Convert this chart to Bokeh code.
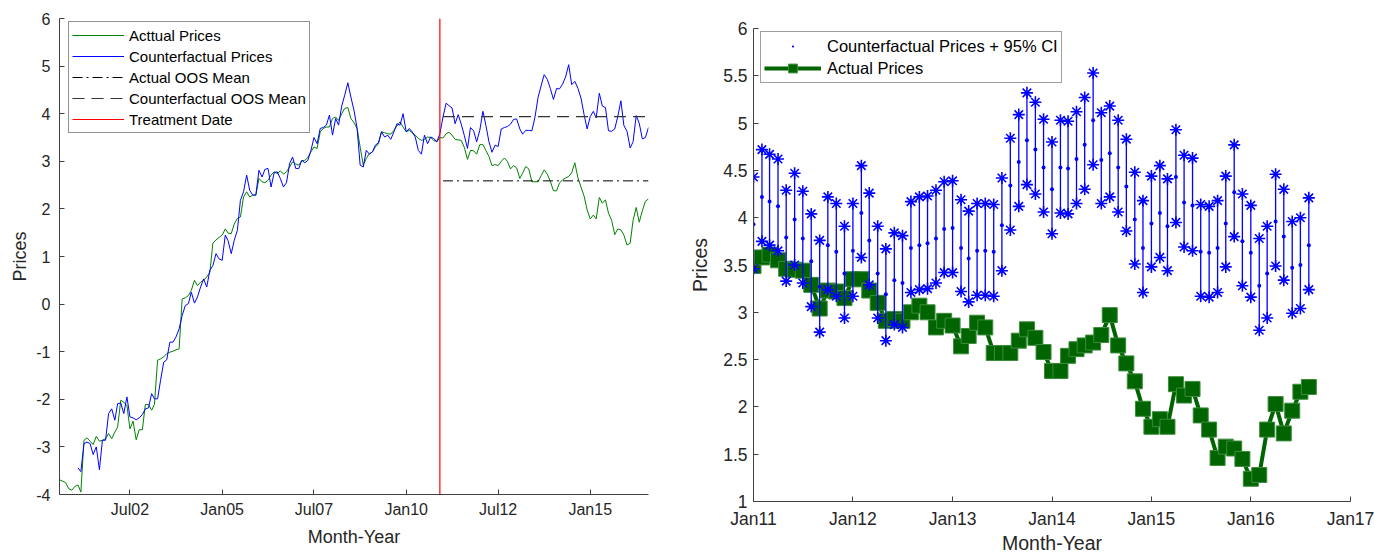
import numpy as np
import pandas as pd
from bokeh.plotting import figure
from bokeh.models import (Range1d, FixedTicker, DatetimeTickFormatter, Legend, LegendItem,
                          CustomJSTickFormatter)
from bokeh.embed import file_html
from bokeh.resources import INLINE

# ---------------- data ----------------
actual_start = "2000-08-01"
counterfactual_start = "2001-02-01"
oos_start = "2011-01-01"
treatment_date = "2010-12-01"

# monthly actual prices, Aug 2000 - Dec 2010
actual_pre = [
    -3.69, -3.72, -3.75, -3.88, -3.91, -3.83, -3.80, -3.95, -2.86, -2.81, -2.88, -2.95,
    -2.78, -2.88, -2.86, -2.83, -2.72, -2.83, -2.69, -2.58, -2.02, -2.06, -2.13, -2.62,
    -2.46, -2.85, -2.64, -2.64, -2.11, -2.11, -2.23, -2.11, -1.18, -1.15, -1.11, -1.04,
    -1.01, -0.99, -0.96, -0.94, 0.11, 0.13, 0.18, 0.29, 0.50, 0.39, 0.46, 0.50,
    0.57, 0.67, 1.28, 1.35, 1.40, 1.45, 1.58, 1.49, 1.48, 1.68, 1.80, 1.83,
    2.25, 2.36, 2.25, 2.29, 2.29, 2.64, 2.57, 2.55, 2.60, 2.71, 2.78, 2.74,
    2.80, 2.73, 2.78, 2.88, 2.99, 2.94, 2.92, 3.01, 3.02, 3.08, 3.20, 3.30,
    3.27, 3.62, 3.69, 3.72, 3.72, 3.90, 3.93, 3.86, 4.00, 4.11, 4.13, 3.90,
    3.81, 3.69, 3.30, 2.92, 3.06, 3.16, 3.20, 3.30, 3.37, 3.62, 3.60, 3.58,
    3.57, 3.65, 3.74, 3.83, 3.72, 3.62, 3.65, 3.60, 3.55, 3.48, 3.44, 3.46,
    3.51, 3.50, 3.44, 3.41, 3.50,
]

# monthly counterfactual prices, Feb 2001 - Dec 2010
counterfactual_pre = [
    -3.44, -3.52, -2.93, -2.90, -2.93, -3.16, -3.00, -3.48, -2.86, -2.86,
    -2.30, -2.20, -2.44, -2.09, -2.08, -2.30, -1.95, -2.37, -2.39, -2.43, -2.39, -2.32,
    -2.20, -2.18, -1.88, -1.99, -1.99, -1.60, -1.22, -1.17, -0.80, -0.80, -0.69, -0.52,
    -0.24, -0.03, 0.01, 0.25, 0.02, 0.15, 0.36, 0.53, 0.36, 0.71, 0.81, 1.06,
    0.95, 0.92, 1.45, 1.33, 1.06, 1.34, 1.55, 2.18, 2.36, 2.71, 2.39, 2.29,
    2.29, 2.81, 2.67, 2.83, 2.85, 2.46, 2.76, 2.78, 2.64, 2.46, 2.55, 2.95,
    3.09, 2.85, 2.85, 3.02, 2.97, 3.02, 3.23, 3.50, 3.37, 3.69, 3.71, 3.76,
    3.97, 3.55, 3.90, 3.76, 4.16, 4.39, 4.65, 4.35, 4.07, 3.69, 2.92, 2.88,
    3.23, 3.15, 3.20, 3.34, 3.39, 3.62, 3.51, 3.55, 3.46, 3.62, 3.79, 3.76,
    4.00, 3.62, 3.69, 3.62, 3.51, 3.23, 3.15, 3.55, 3.37, 3.51, 3.48, 3.41, 3.58,
]

# out-of-sample period, Jan 2011 - Aug 2016
oos_actual = [
    3.49, 3.58, 3.61, 3.55, 3.46, 3.45, 3.44, 3.29, 3.04, 3.23, 3.22, 3.15,
    3.35, 3.35, 3.23, 3.10, 2.91, 2.93, 2.91, 3.00, 3.07, 3.00, 2.84, 2.91,
    2.86, 2.64, 2.75, 2.89, 2.84, 2.57, 2.57, 2.57, 2.70, 2.82, 2.73, 2.58,
    2.38, 2.38, 2.54, 2.61, 2.65, 2.68, 2.76, 2.97, 2.65, 2.46, 2.27, 1.98,
    1.79, 1.87, 1.79, 2.24, 2.12, 2.19, 1.91, 1.76, 1.46, 1.58, 1.56, 1.45,
    1.24, 1.28, 1.76, 2.03, 1.72, 1.96, 2.16, 2.21,
]
oos_cf_mean = [
    3.93, 4.22, 4.17, 4.12, 3.79, 3.98, 3.78, 3.54, 3.27, 3.71, 3.64, 3.41,
    3.65, 4.05, 3.76, 3.41, 3.19, 3.34, 3.31, 3.68, 3.71, 3.73, 3.78, 3.88,
    3.89, 3.68, 3.57, 3.65, 3.65, 3.64, 3.92, 4.34, 4.59, 4.82, 4.72, 4.53,
    4.30, 4.53, 4.52, 4.62, 4.77, 5.03, 4.61, 4.68, 4.53, 4.33, 3.98, 3.68,
    3.94, 4.05, 3.91, 4.43, 4.16, 4.13, 3.64, 3.63, 3.68, 3.94, 4.27, 3.75,
    3.63, 3.28, 3.41, 3.96, 3.80, 3.47, 3.50, 3.71,
]
oos_cf_upper = [
    4.43, 4.72, 4.67, 4.62, 4.29, 4.47, 4.28, 4.04, 3.76, 4.22, 4.15, 3.91,
    4.15, 4.55, 4.26, 3.91, 3.67, 3.84, 3.81, 4.17, 4.22, 4.23, 4.29, 4.38,
    4.39, 4.19, 4.07, 4.15, 4.15, 4.14, 4.42, 4.84, 5.09, 5.32, 5.22, 5.04,
    4.80, 5.03, 5.02, 5.12, 5.27, 5.53, 5.11, 5.18, 5.03, 4.83, 4.48, 4.18,
    4.44, 4.55, 4.41, 4.93, 4.66, 4.63, 4.14, 4.12, 4.18, 4.44, 4.77, 4.25,
    4.13, 3.78, 3.91, 4.46, 4.30, 3.96, 4.00, 4.21,
]
oos_cf_lower = [
    3.46, 3.75, 3.71, 3.65, 3.33, 3.50, 3.31, 3.06, 2.79, 3.24, 3.17, 2.94,
    3.17, 3.58, 3.29, 2.94, 2.70, 2.87, 2.84, 3.21, 3.24, 3.25, 3.31, 3.42,
    3.42, 3.22, 3.11, 3.18, 3.18, 3.17, 3.44, 3.87, 4.12, 4.35, 4.25, 4.06,
    3.83, 4.05, 4.04, 4.15, 4.30, 4.56, 4.15, 4.22, 4.06, 3.86, 3.51, 3.21,
    3.48, 3.58, 3.44, 3.95, 3.69, 3.65, 3.17, 3.16, 3.21, 3.48, 3.80, 3.28,
    3.16, 2.81, 2.94, 3.49, 3.34, 2.99, 3.04, 3.24,
]

left_xlim = ("2000-08-01", "2016-08-01")
right_xlim = ("2011-01-01", "2017-01-01")
left_ylim = (-4, 6)
right_ylim = (1, 6)
left_xtick_dates = ["2002-07-01", "2005-01-01", "2007-07-01", "2010-01-01", "2012-07-01", "2015-01-01"]
right_xtick_dates = ["2011-01-01", "2012-01-01", "2013-01-01", "2014-01-01", "2015-01-01",
                     "2016-01-01", "2017-01-01"]
left_yticks = [-4, -3, -2, -1, 0, 1, 2, 3, 4, 5, 6]
left_ytick_labels = ["-4", "-3", "-2", "-1", "0", "1", "2", "3", "4", "5", "6"]
right_yticks = [1, 1.5, 2, 2.5, 3, 3.5, 4, 4.5, 5, 5.5, 6]
right_ytick_labels = ["1", "1.5", "2", "2.5", "3", "3.5", "4", "4.5", "5", "5.5", "6"]

# ---------------- helpers ----------------
FONT = "Liberation Sans"
TXT = "#262626"
AX = "#404040"


def ms(s):
    return pd.Timestamp(s).value / 1e6


actual_all = actual_pre + oos_actual
cf_all = counterfactual_pre + oos_cf_mean
actual_dates = pd.date_range(actual_start, periods=len(actual_all), freq="MS")
cf_dates = pd.date_range(counterfactual_start, periods=len(cf_all), freq="MS")
oos_dates = pd.date_range(oos_start, periods=len(oos_actual), freq="MS")
oos_span = [oos_dates[0], oos_dates[-1]]
actual_oos_mean = float(np.mean(oos_actual))
cf_oos_mean = float(np.mean(oos_cf_mean))


def style(p, xticks, yticks, ylabels, tick_px, label_px, tick_std_x, tick_std_y,
          label_std_x, label_std_y):
    p.outline_line_color = None
    p.grid.visible = False
    p.background_fill_color = "white"
    p.border_fill_color = "white"
    p.xaxis[0].ticker = FixedTicker(ticks=[ms(d) for d in xticks])
    p.xaxis[0].formatter = DatetimeTickFormatter(days="%b%y", months="%b%y", years="%b%y")
    p.yaxis[0].ticker = FixedTicker(ticks=yticks)
    p.yaxis[0].formatter = CustomJSTickFormatter(code="return tick.toString()")
    p.yaxis[0].major_label_overrides = dict(zip(yticks, ylabels))
    for ax in (p.xaxis[0], p.yaxis[0]):
        ax.axis_line_color = AX
        ax.axis_line_width = 1
        ax.major_tick_line_color = AX
        ax.major_tick_in = 5
        ax.major_tick_out = 0
        ax.minor_tick_line_color = None
        ax.major_label_text_font = FONT
        ax.major_label_text_font_size = f"{tick_px}px"
        ax.major_label_text_color = TXT
        ax.axis_label_text_font = FONT
        ax.axis_label_text_font_size = f"{label_px}px"
        ax.axis_label_text_font_style = "normal"
        ax.axis_label_text_color = TXT
    p.xaxis[0].major_label_standoff = tick_std_x
    p.yaxis[0].major_label_standoff = tick_std_y
    p.xaxis[0].axis_label_standoff = label_std_x
    p.yaxis[0].axis_label_standoff = label_std_y
    p.xaxis[0].axis_label = "Month-Year"
    p.yaxis[0].axis_label = "Prices"


# ---------------- left figure ----------------
p1 = figure(width=686, height=557, x_axis_type="datetime", output_backend="svg",
            toolbar_location=None,
            x_range=Range1d(ms(left_xlim[0]), ms(left_xlim[1])),
            y_range=Range1d(*left_ylim),
            min_border_left=59, min_border_right=38, min_border_top=18, min_border_bottom=63)
style(p1, left_xtick_dates, left_yticks, left_ytick_labels, 16, 18, 6, 9, 6, 3)
p1.styles = {"position": "absolute", "left": "0px", "top": "0px"}

r_act = p1.line(actual_dates, actual_all, line_color="#008000", line_width=1)
r_cf = p1.line(cf_dates, cf_all, line_color="#0000ff", line_width=1)
r_am = p1.line(oos_span, [actual_oos_mean] * 2, line_color="black", line_width=1,
               line_dash="10 4 2 4")
r_cm = p1.line(oos_span, [cf_oos_mean] * 2, line_color="#333333", line_width=1.2,
               line_dash="12 7")
td = pd.Timestamp(treatment_date)
r_td = p1.line([td, td], list(left_ylim), line_color="red", line_width=1.2)

leg1 = Legend(items=[
    LegendItem(label="Acttual Prices", renderers=[r_act]),
    LegendItem(label="Counterfactual Prices", renderers=[r_cf]),
    LegendItem(label="Actual OOS Mean", renderers=[r_am]),
    LegendItem(label="Counterfactual OOS Mean", renderers=[r_cm]),
    LegendItem(label="Treatment Date", renderers=[r_td]),
], location=(9, 361))
leg1.label_text_font = FONT
leg1.label_text_font_size = "15px"
leg1.label_text_color = "black"
leg1.glyph_width = 52
leg1.glyph_height = 20
leg1.label_height = 20
leg1.label_standoff = 5
leg1.spacing = 1
leg1.padding = 3
leg1.margin = 0
leg1.border_line_color = "#262626"
leg1.border_line_width = 1
leg1.background_fill_alpha = 1
p1.add_layout(leg1)

# ---------------- right figure ----------------
p2 = figure(width=689, height=557, x_axis_type="datetime", output_backend="svg",
            toolbar_location=None,
            x_range=Range1d(ms(right_xlim[0]), ms(right_xlim[1])),
            y_range=Range1d(*right_ylim),
            min_border_left=63, min_border_right=25, min_border_top=28, min_border_bottom=56)
style(p2, right_xtick_dates, right_yticks, right_ytick_labels, 17.5, 19.5, 7, 6, 0, 9)
p2.styles = {"position": "absolute", "left": "686px", "top": "0px"}

g_line = p2.line(oos_dates, oos_actual, line_color="#006400", line_width=4)
g_sq = p2.scatter(oos_dates, oos_actual, marker="square", size=15,
                  fill_color="#006400", line_color="#3c8c3c", line_width=1)
p2.segment(x0=oos_dates, y0=oos_cf_lower, x1=oos_dates, y1=oos_cf_upper,
           line_color="#0000ff", line_width=1.3)
p2.scatter(oos_dates, oos_cf_upper, marker="asterisk", size=12, line_color="#0000ff",
           line_width=1.6)
p2.scatter(oos_dates, oos_cf_lower, marker="asterisk", size=12, line_color="#0000ff",
           line_width=1.6)
b_dot = p2.scatter(oos_dates, oos_cf_mean, marker="dot", size=16, line_color="#0000ff",
                   fill_color="#0000ff")

leg2 = Legend(items=[
    LegendItem(label="Counterfactual Prices + 95% CI", renderers=[b_dot]),
    LegendItem(label="Actual Prices", renderers=[g_line, g_sq]),
], location=(7, 418))
leg2.label_text_font = FONT
leg2.label_text_font_size = "16.5px"
leg2.label_text_color = "black"
leg2.glyph_width = 57
leg2.glyph_height = 22
leg2.label_height = 22
leg2.label_standoff = 6
leg2.spacing = 0
leg2.padding = 3
leg2.margin = 0
leg2.border_line_color = "#404040"
leg2.border_line_width = 1
leg2.background_fill_alpha = 1
p2.add_layout(leg2)

open("out.html", "w").write(file_html([p1, p2], INLINE))
